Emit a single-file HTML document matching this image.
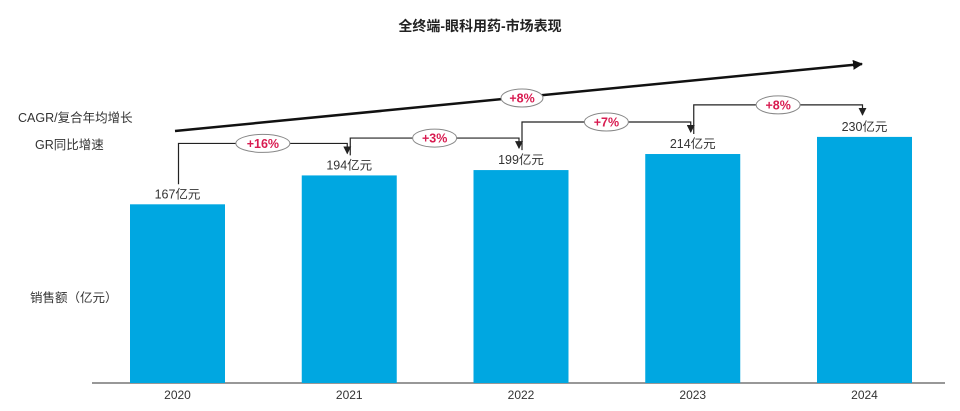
<!DOCTYPE html>
<html><head><meta charset="utf-8">
<style>
body{margin:0;background:#fff;}
svg{display:block;font-family:"Liberation Sans","Noto Sans CJK SC",sans-serif;}
</style></head>
<body>
<svg id="chart" width="960" height="411" viewBox="0 0 960 411">
<defs>
<marker id="ah" markerWidth="8" markerHeight="8" refX="7" refY="4" orient="auto" markerUnits="userSpaceOnUse"><path d="M0,0 L8,4 L0,8 z" fill="#222"/></marker>
<marker id="ah2" markerWidth="10" markerHeight="10" refX="9" refY="5" orient="auto" markerUnits="userSpaceOnUse"><path d="M0,0 L10,5 L0,10 z" fill="#111"/></marker>
</defs>
<text x="480" y="31" text-anchor="middle" font-size="14" font-weight="bold" fill="#222">全终端-眼科用药-市场表现</text>
<text x="18" y="122" font-size="12.5" fill="#333">CAGR/复合年均增长</text>
<text x="35" y="149" font-size="12.5" fill="#333">GR同比增速</text>
<text x="30" y="302" font-size="12.5" fill="#333">销售额（亿元）</text>
<line x1="92" y1="383" x2="945" y2="383" stroke="#777" stroke-width="1.5"/>
<g id="marks"></g>
</svg>
<script>
const years = ["2020","2021","2022","2023","2024"];
const sales = [167,194,199,214,230];
const growth = ["+16%","+3%","+7%","+8%"];
const cagr = "+8%";

const NS="http://www.w3.org/2000/svg";
const g=document.getElementById('marks');
const base=383, scale=1.07, x0=177.5, step=171.75, bw=95;
const xC=i=>x0+i*step;
const yV=v=>base-v*scale;
function mk(tag,attrs){const e=document.createElementNS(NS,tag);for(const k in attrs)e.setAttribute(k,attrs[k]);g.appendChild(e);return e;}

years.forEach((yr,i)=>{
  const b=mk('rect',{x:xC(i)-bw/2,y:yV(sales[i]),width:bw,height:base-yV(sales[i]),fill:'#00a7e1'});
  
  
  const t=mk('text',{x:xC(i),y:yV(sales[i])-6,'text-anchor':'middle','font-size':'12.5',fill:'#333'});
  t.textContent=sales[i]+'亿元';
  
  
  const yl=mk('text',{x:xC(i),y:399,'text-anchor':'middle','font-size':'12',fill:'#333'});
  yl.textContent=yr;
  
  
});

growth.forEach((gr,i)=>{
  const sx=xC(i)+1, tx=xC(i+1)-2;
  const sTop=yV(sales[i])-20, tTop=yV(sales[i+1])-22;
  const lvl=tTop-10;
  const p=mk('path',{d:`M${sx},${sTop} V${lvl} H${tx} V${tTop}`,fill:'none',stroke:'#222','stroke-width':'1.2','marker-end':'url(#ah)'});
  
  
  const mx=(sx+tx)/2;
  const wide=gr.length>3?27:22;
  const e=mk('ellipse',{cx:mx,cy:lvl,rx:wide,ry:9,fill:'#fff',stroke:'#888','stroke-width':'1'});
  
  
  const t=mk('text',{x:mx,y:lvl+4.5,'text-anchor':'middle','font-size':'12.5','font-weight':'bold',fill:'#d81b50'});
  t.textContent=gr;
  
  
});

const tl=mk('line',{x1:175,y1:131,x2:862,y2:64,stroke:'#111','stroke-width':'2.5','marker-end':'url(#ah2)'});


const ce=mk('ellipse',{cx:522,cy:98,rx:21,ry:9,fill:'#fff',stroke:'#888','stroke-width':'1'});


const ct=mk('text',{x:522,y:102.5,'text-anchor':'middle','font-size':'12.5','font-weight':'bold',fill:'#d81b50'});
ct.textContent=cagr;


</script>
</body></html>
